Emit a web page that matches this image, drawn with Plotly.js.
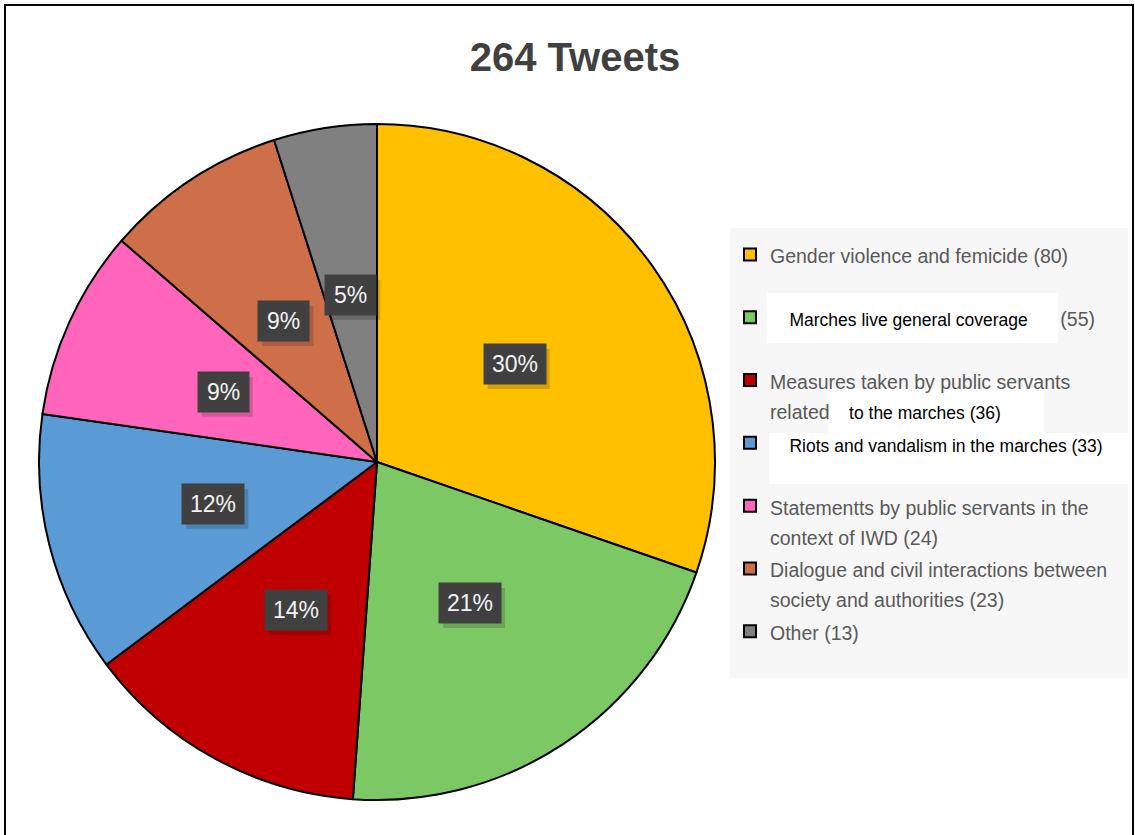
<!DOCTYPE html>
<html>
<head>
<meta charset="utf-8">
<script src="https://cdn.plot.ly/plotly-3.0.1.min.js"></script>
<style>html,body{margin:0;padding:0;background:#fff;overflow:hidden;}#chart{width:1135px;height:835px;}</style>
</head>
<body>
<div id="chart"></div>
<script>
const categories = [
  'Gender violence and femicide',
  'Marches live general coverage',
  'Measures taken by public servants related to the marches',
  'Riots and vandalism in the marches',
  'Statementts by public servants in the context of IWD',
  'Dialogue and civil interactions between society and authorities',
  'Other'
];
const counts = [80, 55, 36, 33, 24, 23, 13];
const pctLabels = ['30%', '21%', '14%', '12%', '9%', '9%', '5%'];
const colors = ['#FFC000', '#7CC864', '#C00000', '#5B9BD5', '#FF66BB', '#CF6F4A', '#808080'];

const FONT = '"Liberation Sans", Arial, sans-serif';
const g = t => `<span style="font-size:19.5px">${t}</span>`;
const k = t => `<span style="font-size:17.5px;color:#000000">${t}</span>`;
const legendLabels = [
  g(`Gender violence and femicide (${counts[0]})`) + '<br> ',
  k('    Marches live general coverage') + g(`      (${counts[1]})`) + '<br> ',
  g('Measures taken by public servants') + '<br>' + g('related') + k(`    to the marches (${counts[2]})`),
  k(`    Riots and vandalism in the marches (${counts[3]})`) + '<br> ',
  g('Statementts by public servants in the') + '<br>' + g(`context of IWD (${counts[4]})`),
  g('Dialogue and civil interactions between') + '<br>' + g(`society and authorities (${counts[5]})`),
  g(`Other (${counts[6]})`)
];

const W = 1135, H = 835;
const CX = 377, CY = 462, R = 338;

function rect(x0, y0, x1, y1, fill, layer) {
  return {type: 'rect', xref: 'paper', yref: 'paper', x0: x0 / W, x1: x1 / W, y0: 1 - y1 / H, y1: 1 - y0 / H,
    fillcolor: fill, line: {width: 0}, layer: layer};
}

const shapes = [
  rect(730, 228, 1128, 678, '#F7F7F7', 'below'),
  rect(767, 293, 1058, 343, '#FFFFFF', 'above'),
  rect(828, 388, 1044, 433, '#FFFFFF', 'above'),
  rect(769, 433, 1130, 484, '#FFFFFF', 'above'),
  {type: 'rect', xref: 'paper', yref: 'paper', x0: 5 / W, x1: 1133 / W, y0: -0.05, y1: 1 - 5 / H,
    fillcolor: 'rgba(0,0,0,0)', line: {color: '#000', width: 2}, layer: 'above'}
];

const total = counts.reduce((a, b) => a + b, 0);
const annotations = [];
let cum = 0;
counts.forEach((v, i) => {
  const mid = (cum + v / 2) / total * 2 * Math.PI;
  cum += v;
  const px = CX + 0.5 * R * Math.sin(mid);
  const py = CY - 0.5 * R * Math.cos(mid);
  const txt = pctLabels[i];
  const w = 11 * txt.length + 27;
  shapes.push(rect(px - w / 2 + 3, py - 19 + 4, px + w / 2 + 5, py + 19 + 6, 'rgba(0,0,0,0.16)', 'above'));
  annotations.push({
    xref: 'paper', yref: 'paper', x: px / W, y: 1 - py / H,
    xanchor: 'center', yanchor: 'middle',
    text: txt, showarrow: false, width: w, height: 38,
    bgcolor: '#404040', font: {family: FONT, size: 23, color: '#F2F2F2'}
  });
});

const trace = {
  type: 'pie',
  labels: legendLabels,
  values: counts,
  customdata: categories,
  sort: false,
  direction: 'clockwise',
  rotation: 0,
  textinfo: 'none',
  hovertemplate: '%{customdata}: %{value} (%{percent})<extra></extra>',
  marker: {colors: colors, line: {color: '#000000', width: 2}},
  domain: {x: [(CX - R) / W, (CX + R) / W], y: [(H - CY - R) / H, (H - CY + R) / H]}
};

const layout = {
  width: W, height: H,
  margin: {l: 0, r: 0, t: 0, b: 0, autoexpand: false},
  paper_bgcolor: '#FFFFFF',
  title: {
    text: '264 Tweets',
    font: {family: FONT, size: 40, color: '#404040', weight: 'bold'},
    x: 575 / W, xanchor: 'center', y: 1 - 57 / H, yanchor: 'middle'
  },
  showlegend: true,
  legend: {
    x: 730 / W, xanchor: 'left', y: 1 - 233 / H, yanchor: 'top',
    bgcolor: 'rgba(0,0,0,0)', valign: 'top', traceorder: 'normal',
    font: {family: FONT, size: 23, color: '#595959'}
  },
  shapes: shapes,
  annotations: annotations
};

Plotly.newPlot('chart', [trace], layout, {displayModeBar: false, responsive: false});
</script>
</body>
</html>
